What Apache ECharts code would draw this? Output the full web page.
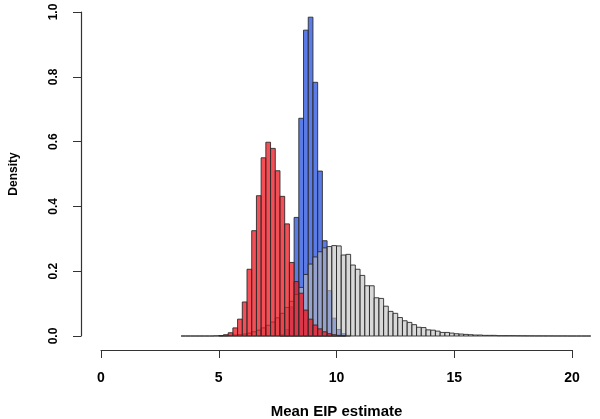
<!DOCTYPE html>
<html>
<head>
<meta charset="utf-8">
<script src="https://cdn.jsdelivr.net/npm/echarts@6/dist/echarts.min.js"></script>
<style>
  html, body { margin: 0; padding: 0; background: #fff; }
  #chart { width: 600px; height: 419px; }
</style>
</head>
<body>
<div id="chart"></div>
<script>
// histogram bins are 0.2 wide; each series lists densities from its first bin
const binWidth = 0.2

const greyStart = 3.4
const greyDensity = [
  0, 0, 0, 0, 0, 0, 0, 0.0005, 0.001, 0.001,
  0.002, 0.003, 0.004, 0.006, 0.009, 0.013, 0.018, 0.025, 0.033, 0.043,
  0.056, 0.07, 0.088, 0.107, 0.128, 0.15, 0.19, 0.222, 0.244, 0.26,
  0.272, 0.276, 0.279, 0.278, 0.25, 0.252, 0.219, 0.206, 0.187, 0.155,
  0.155, 0.118, 0.116, 0.092, 0.076, 0.07, 0.057, 0.047, 0.042, 0.035,
  0.027, 0.026, 0.019, 0.018, 0.015, 0.011, 0.011, 0.009, 0.007, 0.006,
  0.005, 0.004, 0.003, 0.003, 0.002, 0.002, 0.002, 0.001, 0.001, 0.001,
  0.001, 0.0008, 0.0006, 0.0005, 0.0004, 0.0003, 0.0003, 0.0002, 0.0002, 0.0001,
  0.0001, 0.0001, 0, 0, 0, 0, 0
]

const blueStart = 7.6
const blueDensity = [
  0.005, 0.02, 0.09, 0.366, 0.672, 0.944, 0.984, 0.783, 0.509, 0.294,
  0.14, 0.055, 0.02, 0.007, 0.002
]

const redStart = 5.0
const redDensity = [
  0.001, 0.004, 0.01, 0.025, 0.052, 0.105, 0.206, 0.325, 0.433, 0.55,
  0.598, 0.579, 0.51, 0.431, 0.346, 0.227, 0.168, 0.132, 0.08, 0.052,
  0.034, 0.022, 0.013, 0.007, 0.004, 0.002, 0.001
]

const xTicks = [0, 5, 10, 15, 20]
const yTicks = [0, 0.2, 0.4, 0.6, 0.8, 1.0]

const font = '"Liberation Sans", Arial, Helvetica, sans-serif'
const axisColor = '#333'

const toBins = (start, values) =>
  values.map((v, i) => [start + i * binWidth, start + (i + 1) * binWidth, v])

const histSeries = (name, start, values, fill) => ({
  name: name,
  type: 'custom',
  xAxisIndex: 0,
  yAxisIndex: 0,
  clip: false,
  silent: true,
  data: toBins(start, values),
  encode: { x: [0, 1], y: 2 },
  renderItem: (params, api) => {
    const p0 = api.coord([api.value(0), api.value(2)])
    const p1 = api.coord([api.value(1), 0])
    return {
      type: 'rect',
      shape: { x: p0[0], y: p0[1], width: p1[0] - p0[0], height: p1[1] - p0[1] },
      style: { fill: fill, stroke: '#2b2b2b', lineWidth: 0.9 }
    }
  }
})

const hiddenAxis = (gridIndex, min, max) => ({
  type: 'value',
  gridIndex: gridIndex,
  min: min,
  max: max,
  show: false
})

const chart = echarts.init(document.getElementById('chart'), null, { renderer: 'canvas' })

chart.setOption({
  animation: false,
  grid: [
    // plotting area
    { left: 101, top: 12, width: 471, height: 324, outerBoundsMode: 'none', containLabel: false },
    // detached y axis (R style)
    { left: 81, top: 12, width: 491, height: 324, outerBoundsMode: 'none', containLabel: false },
    // detached x axis
    { left: 101, top: 300, width: 471, height: 50, outerBoundsMode: 'none', containLabel: false }
  ],
  xAxis: [
    hiddenAxis(0, 0, 20),
    hiddenAxis(1, 0, 1),
    {
      type: 'value',
      gridIndex: 2,
      min: 0,
      max: 20,
      interval: 5,
      name: 'Mean EIP estimate',
      nameLocation: 'middle',
      nameGap: 54,
      nameTextStyle: { fontFamily: font, fontSize: 15, fontWeight: 'bold', color: '#000' },
      axisLine: { show: true, onZero: false, lineStyle: { color: axisColor, width: 1 } },
      axisTick: { show: true, length: 8, lineStyle: { color: axisColor } },
      axisLabel: {
        fontFamily: font,
        fontSize: 14,
        fontWeight: 'bold',
        color: '#000',
        margin: 21,
        formatter: v => (xTicks.includes(v) ? String(v) : '')
      },
      splitLine: { show: false }
    }
  ],
  yAxis: [
    hiddenAxis(0, 0, 1),
    {
      type: 'value',
      gridIndex: 1,
      position: 'left',
      min: 0,
      max: 1,
      interval: 0.2,
      name: 'Density',
      nameLocation: 'middle',
      nameGap: 61,
      nameRotate: 90,
      nameTextStyle: { fontFamily: font, fontSize: 12, fontWeight: 'bold', color: '#000' },
      axisLine: { show: true, onZero: false, lineStyle: { color: axisColor, width: 1.2 } },
      axisTick: { show: true, length: 8, lineStyle: { color: axisColor } },
      axisLabel: {
        fontFamily: font,
        fontSize: 12,
        fontWeight: 'bold',
        color: '#000',
        rotate: 90,
        margin: 21,
        formatter: v => {
          const t = yTicks.find(y => Math.abs(y - v) < 1e-9)
          return t === undefined ? '' : t.toFixed(1)
        }
      },
      splitLine: { show: false }
    },
    hiddenAxis(2, 0, 1)
  ],
  series: [
    histSeries('blue', blueStart, blueDensity, 'rgba(50,90,225,0.8)'),
    histSeries('grey', greyStart, greyDensity, 'rgba(190,190,190,0.6)'),
    histSeries('red', redStart, redDensity, 'rgba(240,20,30,0.75)')
  ]
})
</script>
</body>
</html>
